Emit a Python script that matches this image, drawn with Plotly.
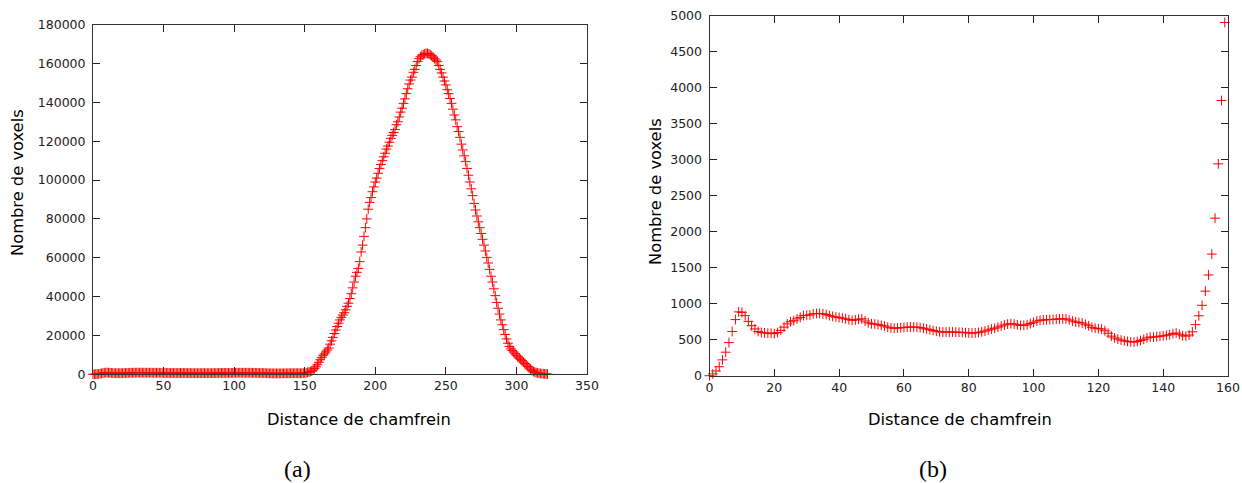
import plotly.graph_objects as go

W, H = 1242, 483

# Chamfer distance histogram: number of voxels for distances 0..322
counts_0_159 = [
    0, 25, 65, 125, 220, 327, 460, 615, 780, 887,
    880, 835, 755, 695, 650, 615, 600, 595, 592, 590,
    585, 600, 630, 675, 720, 750, 765, 790, 810, 835,
    840, 845, 860, 865, 865, 860, 850, 835, 825, 815,
    810, 800, 790, 780, 770, 775, 785, 790, 760, 735,
    722, 718, 710, 700, 690, 675, 665, 660, 662, 667,
    670, 675, 677, 677, 675, 668, 660, 650, 640, 628,
    617, 610, 607, 607, 607, 607, 606, 604, 602, 598,
    594, 593, 595, 600, 610, 621, 635, 648, 660, 675,
    690, 705, 718, 724, 718, 708, 698, 700, 708, 725,
    742, 760, 770, 775, 778, 780, 782, 786, 790, 790,
    788, 775, 760, 748, 740, 732, 715, 695, 672, 660,
    654, 649, 625, 590, 550, 525, 510, 495, 485, 476,
    470, 468, 475, 490, 505, 525, 537, 537, 542, 548,
    555, 562, 570, 585, 593, 575, 555, 550, 565, 610,
    710, 833, 978, 1175, 1400, 1690, 2190, 2945, 3825, 4910,
]
counts_160_322 = [
    6200, 7500, 8700, 9800, 10500, 11500, 12500, 13500, 15500, 17200,
    19000, 21000, 22800, 24600, 26300, 28000, 29300, 30500, 31700, 33200,
    35000, 36600, 39000, 41500, 44500, 47500, 50500, 52500, 54500, 58000,
    63000, 66500, 71000, 75500, 80000, 85000, 88500, 91000, 94000, 96500,
    99000, 101000, 103500, 106000, 108000, 110000, 112000, 113800, 116000, 117500,
    119500, 121500, 123000, 124500, 126000, 128500, 130000, 132500, 135000, 137000,
    139500, 141800, 144500, 147000, 149500, 151500, 153000, 155500, 157000, 159000,
    161000, 162500, 163500, 164300, 164600, 165000, 165300, 165200, 165000, 164500,
    164000, 163300, 162500, 161800, 161000, 159000, 157000, 155200, 153000, 151000,
    149000, 146500, 144500, 142000, 139500, 136500, 133500, 131000, 127500, 125000,
    122000, 118500, 115500, 112500, 109500, 106000, 102500, 99000, 95500, 92000,
    88000, 84600, 81500, 78500, 75500, 72500, 69500, 66500, 63500, 60200,
    57300, 54000, 50500, 47500, 44000, 40500, 37000, 34000, 31000, 28000,
    25500, 23000, 20500, 18200, 16000, 14300, 13100, 12300, 11500, 10600,
    9800, 9000, 8300, 7700, 7000, 6300, 5500, 4800, 4000, 3300,
    2600, 2000, 1500, 1100, 900, 700, 550, 450, 350, 280,
    200, 150, 100,
]
counts = counts_0_159 + counts_160_322
distances = list(range(len(counts)))

# zoomed view (b) shows distances 0..159
zoom_n = 160

x_ticks_a = [0, 50, 100, 150, 200, 250, 300, 350]
y_ticks_a = [0, 20000, 40000, 60000, 80000, 100000, 120000, 140000, 160000, 180000]
x_ticks_b = [0, 20, 40, 60, 80, 100, 120, 140, 160]
y_ticks_b = [0, 500, 1000, 1500, 2000, 2500, 3000, 3500, 4000, 4500, 5000]

x_title = "Distance de chamfrein"
y_title = "Nombre de voxels"
captions = ["(a)", "(b)"]

RED = "#ff0000"
marker = dict(symbol="cross-thin", size=7, line=dict(color=RED, width=1), color=RED)

fig = go.Figure()
fig.add_trace(go.Scatter(x=distances, y=counts, mode="markers", marker=marker,
                         xaxis="x", yaxis="y", cliponaxis=False, showlegend=False))
fig.add_trace(go.Scatter(x=distances[:zoom_n], y=counts[:zoom_n], mode="markers", marker=marker,
                         xaxis="x2", yaxis="y2", cliponaxis=False, showlegend=False))

def px_x(p):
    return p / W

def px_y(p):
    return 1 - p / H

tickfont = dict(family="DejaVu Sans", size=12.5, color="#222222")
axis_common = dict(showline=True, linecolor="#333333", linewidth=1, mirror="ticks",
                   ticks="inside", ticklen=7, tickcolor="#222222", tickwidth=1,
                   showgrid=False, zeroline=False, tickfont=tickfont,
                   automargin=False, tickformat="d")

fig.update_layout(
    width=W, height=H,
    margin=dict(l=0, r=0, t=0, b=0),
    paper_bgcolor="white", plot_bgcolor="white",
    xaxis=dict(domain=[px_x(93), px_x(587)], range=[0, 350], tickvals=x_ticks_a,
               anchor="y", **axis_common),
    yaxis=dict(domain=[px_y(374.3), px_y(24.7)], range=[0, 180000], tickvals=y_ticks_a,
               anchor="x", ticklabelstandoff=4, **axis_common),
    xaxis2=dict(domain=[px_x(709.5), px_x(1228)], range=[0, 160], tickvals=x_ticks_b,
                anchor="y2", **axis_common),
    yaxis2=dict(domain=[px_y(375.7), px_y(16)], range=[0, 5000], tickvals=y_ticks_b,
                anchor="x2", ticklabelstandoff=4, **axis_common),
)

title_font = dict(family="DejaVu Sans", size=16.3, color="black")
cap_font = dict(family="Liberation Serif", size=24, color="black")
annots = [
    dict(text=x_title, x=px_x(359), y=px_y(419), font=title_font),
    dict(text=x_title, x=px_x(960), y=px_y(419), font=title_font),
    dict(text=y_title, x=px_x(18), y=px_y(183), font=title_font, textangle=-90),
    dict(text=y_title, x=px_x(655), y=px_y(192), font=title_font, textangle=-90),
    dict(text=captions[0], x=px_x(297), y=px_y(469), font=cap_font),
    dict(text=captions[1], x=px_x(933), y=px_y(469), font=cap_font),
]
for a in annots:
    fig.add_annotation(xref="paper", yref="paper", xanchor="center", yanchor="middle",
                       showarrow=False, **a)

fig.write_html("out.html", config={"displayModeBar": False},
               post_script="document.body.style.margin='0';document.body.style.overflow='hidden';")
